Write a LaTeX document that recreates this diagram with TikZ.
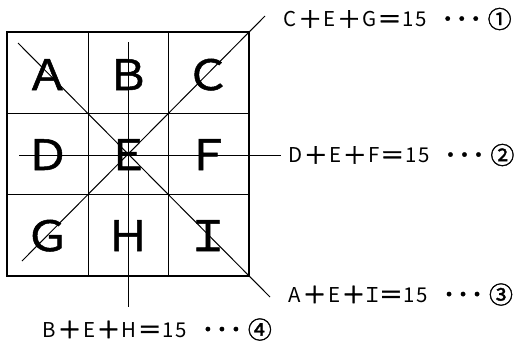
\documentclass[tikz,border=0pt]{standalone}
\usepackage{fontspec}
\setmainfont{Noto Sans CJK JP}
\newfontfamily\cellfont[FakeBold=1.2,FakeStretch=1.08]{Noto Sans CJK JP}
\newfontfamily\eqsymfamily[FakeBold=1.5]{Noto Sans CJK JP}
\newcommand\eqsym{\eqsymfamily\fontsize{24}{24}\selectfont}
\newcommand\eqdot{\eqsymfamily\fontsize{21}{21}\selectfont}
\newcommand\eqcirc{\eqsymfamily\fontsize{24}{24}\selectfont}
\newcommand\eqplus{\raisebox{-1.4bp}{\eqsym ＋}}
\newcommand\eqequal{\raisebox{-1.4bp}{\eqsym ＝}}
\newcommand\eqtext[4]{#1\kern1.5bp\eqplus\kern1.5bp #2\kern1.5bp\eqplus\kern1.5bp #3\kern1bp\eqequal\kern1bp 1\kern1.5bp 5\kern14bp\makebox[14bp]{\eqdot ・}\makebox[14bp]{\eqdot ・}\makebox[14bp]{\eqdot ・}\kern5bp\raisebox{-1.6bp}{\eqcirc #4}}
\begin{document}
\begin{tikzpicture}[x=1bp,y=-1bp,
  cellletter/.style={font=\cellfont\fontsize{42}{42}\selectfont, inner sep=0pt, anchor=base},
  eqlabel/.style={font=\fontsize{20.5}{20.5}\selectfont, inner sep=0pt, anchor=base west},
  thinline/.style={line width=1bp},
  frameline/.style={line width=2.4bp}]
\useasboundingbox (0,0) rectangle (517,342);
% grid
\draw[thinline] (88,32) -- (88,276) (168,32) -- (168,276)
                (7,113) -- (249,113) (7,194) -- (249,194);
\draw[frameline] (7,32) rectangle (249,276);
% letters
\node[cellletter] (a) at (47.5,90) {Ａ};
\node[cellletter] (b) at (128,90) {Ｂ};
\node[cellletter] (c) at (208,90) {Ｃ};
\node[cellletter] (d) at (47.5,170) {Ｄ};
\node[cellletter] (e) at (128,170) {Ｅ};
\node[cellletter] (f) at (208,170) {Ｆ};
\node[cellletter] (g) at (47.5,251) {Ｇ};
\node[cellletter] (h) at (128,251) {Ｈ};
\node[cellletter] (i) at (208,251) {Ｉ};
% line end points
\coordinate (aiS) at (18,43);
\coordinate (aiE) at (270,297);
\coordinate (gcS) at (22,261);
\coordinate (gcE) at (265,16);
\coordinate (dfS) at (19,155);
\coordinate (dfE) at (281,155);
\coordinate (bhS) at (128,42);
\coordinate (bhE) at (128,307);
\draw[thinline] (aiS) -- (aiE);
\draw[thinline] (gcS) -- (gcE);
\draw[thinline] (dfS) -- (dfE);
\draw[thinline] (bhS) -- (bhE);
% labels
\node[eqlabel] (l1) at (283.5,26.5) {\eqtext{C}{E}{G}{①}};
\node[eqlabel] (l2) at (288,162.5) {\eqtext{D}{E}{F}{②}};
\node[eqlabel] (l3) at (288.5,302) {\eqtext{A}{E}{\makebox[11bp]{Ｉ}}{③}};
\node[eqlabel] (l4) at (42.5,337) {\eqtext{B}{E}{H}{④}};
\end{tikzpicture}
\end{document}
